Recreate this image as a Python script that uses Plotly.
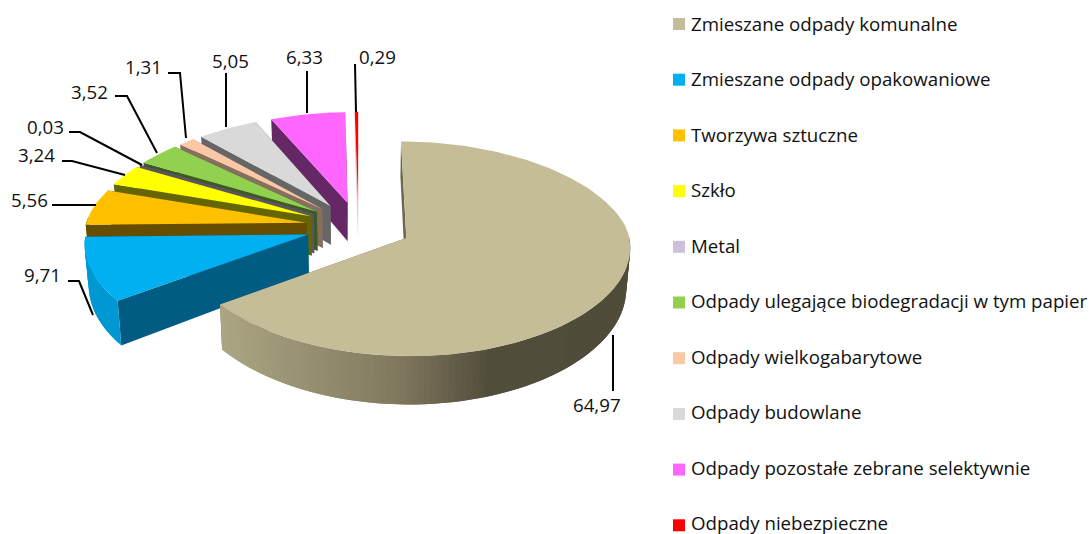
import math
import plotly.graph_objects as go

CATEGORIES = ["Zmieszane odpady komunalne", "Zmieszane odpady opakowaniowe", "Tworzywa sztuczne", "Szkło",
              "Metal", "Odpady ulegające biodegradacji w tym papier", "Odpady wielkogabarytowe",
              "Odpady budowlane", "Odpady pozostałe zebrane selektywnie", "Odpady niebezpieczne"]
VALUES = [64.97, 9.71, 5.56, 3.24, 0.03, 3.52, 1.31, 5.05, 6.33, 0.29]
TOP_COLORS = ["#C4BD97", "#00B0F0", "#FFC000", "#FFFF00", "#CCC1DA", "#92D050", "#FAC8A4", "#D9D9D9", "#FF66FF", "#FF0000"]
SIDE_COLORS = ["#6E684F", "#005C82", "#664D00", "#666600", "#5A5560", "#3E5A22", "#85705F", "#666666", "#662766", "#E6C4C4"]
RIM_COLORS = [None, "#0098D2", "#664D00", "#666600", "#807A8A", "#64903A", "#B08A70", "#8F8F8F", "#A040A0", "#C00000"]

# leader lines (polyline vertices) and label anchors, in page pixels
LEADERS = [[(613, 335), (613, 391)],
           [(68, 281), (79, 281), (93, 315)],
           [(52, 205), (96, 205)],
           [(62, 161), (72, 161), (125, 175)],
           [(69, 132), (80, 132), (142, 165)],
           [(115, 96), (127, 96), (157, 153)],
           [(168, 73), (180, 73), (186, 138)],
           [(226, 73), (226, 127)],
           [(307, 71), (307, 113)],
           [(355, 64), (356, 112)]]
LABEL_POS = [(597, 404), (42, 274), (29, 199), (36, 154), (45, 126), (89, 91), (143, 66), (230, 60), (304, 56), (377, 56)]

CX, SX, A, B, P, DEPTH, EXPLODE = 358.6, 221.0, 226.5, 104, 0.10, 40, 0.24
FONT = "Open Sans"
FONT_SIZE = 18.7


def project(x, y):
    s = 1 / (1 + P * y)
    sx = 1 - (0.115 if y >= 0 else 0.08) * y
    px, py = CX + SX * x * sx, A - B * y * s
    return (px, py), (px + (CX - px) * 0.015, py + DEPTH * s ** 1.6)


def polar(t):
    r = math.radians(t)
    return math.sin(r), math.cos(r)


def lerp_color(x):
    stops = [(221, (0xAC, 0xA6, 0x84)), (400, (0x80, 0x79, 0x5E)), (490, (0x52, 0x4E, 0x3C)), (640, (0x50, 0x4C, 0x3A))]
    for (a, ca), (b, cb) in zip(stops, stops[1:]):
        if x <= b:
            f = max(0, (x - a) / (b - a))
            return "rgb(%d,%d,%d)" % tuple(ca[i] + (cb[i] - ca[i]) * f for i in range(3))
    return "rgb(80,76,58)"


fig = go.Figure()


def poly(points, color, name=None):
    fig.add_trace(go.Scatter(x=[p[0] for p in points] + [points[0][0]], y=[p[1] for p in points] + [points[0][1]],
                             mode="lines", fill="toself", fillcolor=color,
                             line=dict(color=color, width=0), showlegend=False,
                             hoverinfo="skip" if name is None else "text", text=name))


total = sum(VALUES)
starts, acc = [], 0.0
for v in VALUES:
    starts.append(acc)
    acc += v / total * 360

for i in reversed(range(len(VALUES))):
    t0 = starts[i]
    t1 = t0 + VALUES[i] / total * 360
    mx, my = polar((t0 + t1) / 2)
    ax, ay = EXPLODE * mx, EXPLODE * my
    n = max(2, int((t1 - t0) / 1.5))
    ts = [t0 + (t1 - t0) * k / n for k in range(n + 1)]
    rim = [project(ax + polar(t)[0], ay + polar(t)[1]) for t in ts]
    apex = project(ax, ay)
    # radial side faces
    for r in (rim[0], rim[-1]):
        poly([apex[0], r[0], r[1], apex[1]], SIDE_COLORS[i])
    # outer rim, only where it faces the viewer; each strip overlaps the next one so no seams show
    for k in range(n):
        tm = (ts[k] + ts[k + 1]) / 2
        if math.cos(math.radians(tm)) < 0.02:
            a, b = rim[k], rim[min(k + 2, n)]
            mid = rim[k + 1]
            col = lerp_color((rim[k][0][0] + mid[0][0]) / 2) if i == 0 else RIM_COLORS[i]
            poly([a[0], mid[0], b[0], b[1], mid[1], a[1]], col)
    poly([apex[0]] + [r[0] for r in rim], TOP_COLORS[i], name=f"{CATEGORIES[i]}: {VALUES[i]}")

# leader lines and value labels
annotations = []
for i, v in enumerate(VALUES):
    fig.add_trace(go.Scatter(x=[p[0] for p in LEADERS[i]], y=[p[1] for p in LEADERS[i]], mode="lines",
                             line=dict(color="#000000", width=2), showlegend=False, hoverinfo="skip"))
    annotations.append(dict(x=LABEL_POS[i][0], y=LABEL_POS[i][1], xref="x", yref="y", showarrow=False,
                            text=f"{v:.2f}".replace(".", ","), font=dict(family=FONT, size=FONT_SIZE, color="#111111")))

# legend
for i, c in enumerate(CATEGORIES):
    y = 24 + 55.7 * i
    fig.add_trace(go.Scatter(x=[679], y=[y], mode="markers", showlegend=False, hoverinfo="skip",
                             marker=dict(symbol="square", size=12, color=TOP_COLORS[i])))
    annotations.append(dict(x=688.5, y=23 + 55.5 * i, xref="x", yref="y", xanchor="left", showarrow=False, text=c,
                            font=dict(family=FONT, size=FONT_SIZE, color="#111111")))

fig.update_layout(width=1089, height=534, margin=dict(l=0, r=0, t=0, b=0), paper_bgcolor="white", plot_bgcolor="white",
                  xaxis=dict(range=[0, 1089], visible=False, fixedrange=True),
                  yaxis=dict(range=[534, 0], visible=False, fixedrange=True),
                  annotations=annotations, showlegend=False)
fig.write_html("out.html", config={"displayModeBar": False},
               post_script="document.body.style.margin='0';document.body.style.overflow='hidden';")
